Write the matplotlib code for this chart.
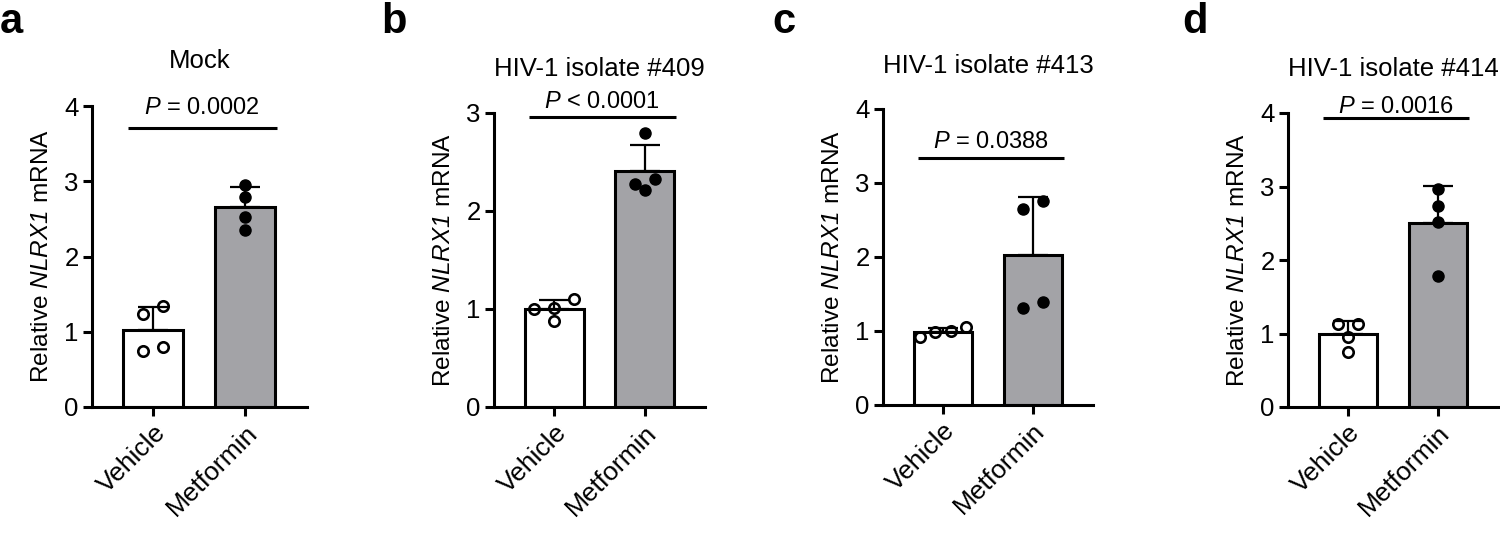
import numpy as np
import matplotlib
matplotlib.use('Agg')
import matplotlib.pyplot as plt

plt.rcParams['font.family'] = ['Liberation Sans', 'DejaVu Sans']
plt.rcParams['mathtext.fontset'] = 'custom'
plt.rcParams['mathtext.rm'] = 'Liberation Sans'
plt.rcParams['mathtext.it'] = 'Liberation Sans:italic'
plt.rcParams['mathtext.sf'] = 'Liberation Sans:italic'  # cursiva tambien para digitos

# Datos
groups = ['Vehicle', 'Metformin']
panel_labels = ['a', 'b', 'c', 'd']
titles = ['Mock', 'HIV-1 isolate #409', 'HIV-1 isolate #413', 'HIV-1 isolate #414']
p_texts = ['= 0.0002', '< 0.0001', '= 0.0388', '= 0.0016']
y_max = [4, 3, 4, 4]
sig_height = [3.71, 2.96, 3.34, 3.93]

vehicle_a = [1.23, 1.34, 0.74, 0.80]
metformin_a = [2.95, 2.79, 2.52, 2.35]
vehicle_b = [1.01, 0.88, 1.10, 1.00]
metformin_b = [2.80, 2.33, 2.28, 2.21]
vehicle_c = [1.05, 0.92, 1.00, 0.99]
metformin_c = [2.65, 2.76, 1.31, 1.39]
vehicle_d = [1.13, 1.13, 0.95, 0.75]
metformin_d = [2.96, 2.73, 2.52, 1.78]

vehicle_all = [vehicle_a, vehicle_b, vehicle_c, vehicle_d]
metformin_all = [metformin_a, metformin_b, metformin_c, metformin_d]

# posiciones de los ejes en pixeles (izq, arriba, der, abajo)
W, H = 1500, 557
boxes = [(92, 106, 307, 407), (494, 113, 705, 407), (883, 109, 1093, 405), (1288, 113, 1498, 407)]
label_x = [0, 381, 772, 1182]
title_base = [68, 76, 73, 76]      # linea base del titulo (px desde arriba)
ptext_pad = [10, 6.5, 7.2, 3.6]    # puntos sobre la barra de significancia

GRAY = '#a3a3a7'
LW = 2.2


def row_offsets(vals, px_unit, gap=11, step=20, max_span=46):
    # agrupa puntos cercanos en filas y las centra (estilo GraphPad)
    vals = np.asarray(vals)
    order = np.argsort(vals)[::-1]
    rows = []
    for i in order:
        y = vals[i] * px_unit
        if rows and rows[-1][0] - y < gap:
            rows[-1][1].append(i)
        else:
            rows.append([y, [i]])
    offs = np.zeros(len(vals))
    for _, idx in rows:
        idx = sorted(idx, key=lambda k: vals[k])
        n = len(idx)
        s = step if n < 2 else min(step, max_span / (n - 1))
        for k, i in enumerate(idx):
            offs[i] = (k - (n - 1) / 2) * s
    return offs


fig = plt.figure(figsize=(W / 100, H / 100), dpi=100)

for p in range(4):
    l, t, r, b = boxes[p]
    ax = fig.add_axes([l / W, 1 - b / H, (r - l) / W, (b - t) / H])
    ax.set_xlim(-0.667, 1.67)
    ax.set_ylim(0, y_max[p])
    px_unit_y = (b - t) / y_max[p]
    px_unit_x = (r - l) / (1.67 + 0.667)

    data = [np.array(vehicle_all[p]), np.array(metformin_all[p])]
    means = [d.mean() for d in data]
    sds = [d.std(ddof=1) for d in data]

    ax.bar([0, 1], means, width=0.65, color=['white', GRAY], edgecolor='black',
           linewidth=LW, zorder=2)
    ax.errorbar([0, 1], means, yerr=[[0, 0], sds], fmt='none', ecolor='black',
                elinewidth=1.6, capsize=10.8, capthick=1.6, zorder=3)

    for g, d in enumerate(data):
        xs = g + row_offsets(d, px_unit_y) / px_unit_x
        if g == 0:
            ax.plot(xs, d, 'o', ms=7.5, mfc='none', mec='black', mew=1.9,
                    zorder=4, clip_on=False)
        else:
            ax.plot(xs, d, 'o', ms=8, mfc='black', mec='black', zorder=4,
                    clip_on=False)

    # barra de significancia
    ax.plot([-0.28, 1.345], [sig_height[p]] * 2, color='black', lw=LW,
            solid_capstyle='butt', clip_on=False)
    ax.annotate(r'$\mathsf{P}$ ' + p_texts[p], xy=(0.53, sig_height[p]),
                xytext=(0, ptext_pad[p]), textcoords='offset points',
                ha='center', va='baseline', fontsize=17, annotation_clip=False)

    fig.text((l + r) / 2 / W, 1 - title_base[p] / H, titles[p], fontsize=18.5,
             ha='center', va='baseline')

    for s in ['top', 'right']:
        ax.spines[s].set_visible(False)
    for s in ['left', 'bottom']:
        ax.spines[s].set_linewidth(LW)
    ax.tick_params(width=LW, length=6.5, pad=3)
    ax.tick_params(axis='y', labelsize=18.5)
    ax.tick_params(axis='x', labelsize=19)
    ax.set_yticks(np.arange(0, y_max[p] + 1, 1))
    ax.set_xticks([0, 1])
    ax.set_xticklabels(groups, rotation=45, ha='right', rotation_mode='anchor')
    ax.set_ylabel(r'Relative $\mathsf{NLRX1}$ mRNA', fontsize=17.6, labelpad=8)

    fig.text(label_x[p] / W, 1 - 2 / H, panel_labels[p], fontsize=30,
             fontweight='bold', ha='left', va='top')

fig.savefig('out.png', dpi=100)
